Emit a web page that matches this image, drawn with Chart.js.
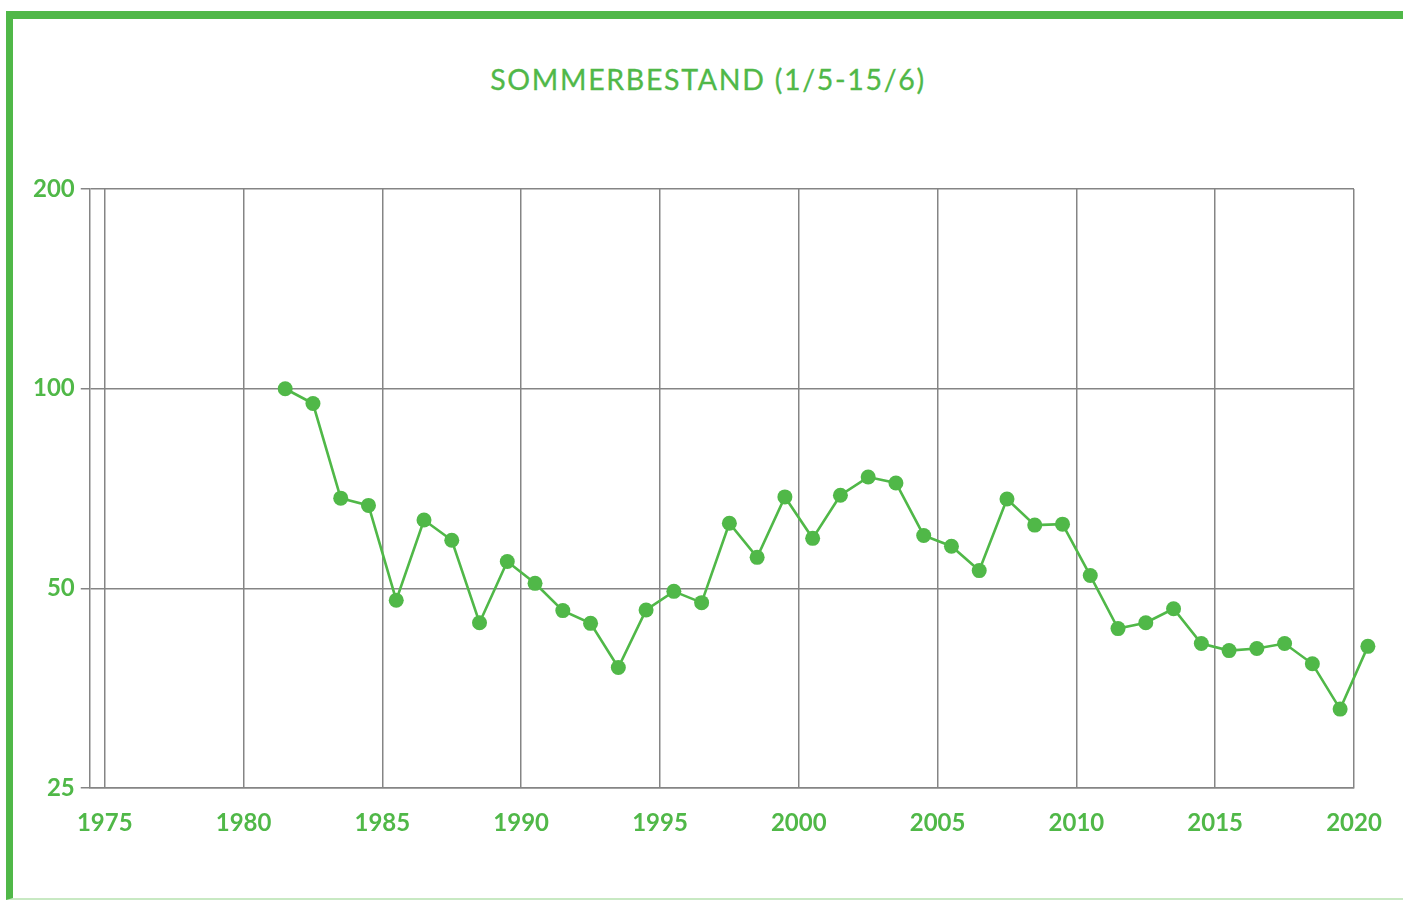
<!DOCTYPE html>
<html>
<head>
<meta charset="utf-8">
<script src="https://cdn.jsdelivr.net/npm/chart.js@4"></script>
<style>
    html, body { margin: 0; padding: 0; background: #fff; }
    body { width: 1403px; height: 900px; position: relative; overflow: hidden; font-family: Lato, sans-serif; }
    .frame {
        position: absolute; left: 6px; top: 11px; right: -10px; bottom: 0;
        border-top: 8px solid #50b848; border-left: 7px solid #50b848;
        border-bottom: 2px solid #c8e9c3;
    }
    .title {
        position: absolute; left: 0; top: 62px; width: 1416px; text-align: center;
        color: #50b848; font-size: 28.5px; font-weight: 400; letter-spacing: 1.7px;
        -webkit-text-stroke: 0.3px #50b848;
    }
    .chart-box { position: absolute; left: 0; top: 0; width: 1403px; height: 900px; }
</style>
</head>
<body>
<div class="frame"></div>
<div class="title">SOMMERBESTAND (1/5-15/6)</div>
<div class="chart-box"><canvas id="summerChart"></canvas></div>
<script>
const years = [1981, 1982, 1983, 1984, 1985, 1986, 1987, 1988, 1989, 1990,
               1991, 1992, 1993, 1994, 1995, 1996, 1997, 1998, 1999, 2000,
               2001, 2002, 2003, 2004, 2005, 2006, 2007, 2008, 2009, 2010,
               2011, 2012, 2013, 2014, 2015, 2016, 2017, 2018, 2019, 2020];
const counts = [100, 95, 68.4, 66.7, 48, 63.4, 59.1, 44.4, 54.9, 50.9,
                46.3, 44.3, 38, 46.4, 49.5, 47.6, 62.7, 55.7, 68.7, 59.5,
                69.1, 73.6, 72.1, 60.1, 57.9, 53.2, 68.2, 62.3, 62.5, 52.3,
                43.5, 44.4, 46.6, 41.3, 40.3, 40.6, 41.3, 38.5, 32.9, 40.9];
const xTicks = [1975, 1980, 1985, 1990, 1995, 2000, 2005, 2010, 2015, 2020];
const yTicks = [25, 50, 100, 200];

const green = '#50b848';
const gridGrey = '#858585';

// points past the last gridline still get drawn (the line already does with clip: false)
const outsidePoints = {
    id: 'outsidePoints',
    afterDatasetsDraw(chart) {
        const area = chart.chartArea;
        const full = { left: 0, top: 0, right: chart.width, bottom: chart.height };
        chart.getDatasetMeta(0).data.forEach(p => {
            if (p.x > area.right) p.draw(chart.ctx, full);
        });
    }
};

const ctx = document.getElementById('summerChart').getContext('2d');
new Chart(ctx, {
    type: 'line',
    data: {
        datasets: [{
            label: 'Sommerbestand',
            // points sit mid-year
            data: years.map((y, i) => ({ x: y + 0.5, y: counts[i] })),
            borderColor: green,
            backgroundColor: green,
            borderWidth: 2.6,
            pointRadius: 7.5,
            pointHoverRadius: 7.5,
            pointBorderWidth: 0,
            tension: 0,
            clip: false
        }]
    },
    options: {
        responsive: true,
        maintainAspectRatio: false,
        animation: false,
        layout: { padding: { top: 189, left: 27, right: 49, bottom: 41 } },
        plugins: {
            legend: { display: false },
            title: { display: false },
            tooltip: { enabled: false }
        },
        scales: {
            x: {
                type: 'linear',
                min: 1974.46,
                max: 2020,
                afterBuildTicks: scale => { scale.ticks = xTicks.map(v => ({ value: v })); },
                grid: { color: gridGrey, lineWidth: 1.5, drawTicks: false },
                border: { color: gridGrey, width: 1.5 },
                ticks: {
                    color: green,
                    padding: 21,
                    maxRotation: 0,
                    autoSkip: false,
                    font: { family: 'Lato', size: 24, weight: 'bold' },
                    callback: value => String(value)
                }
            },
            y: {
                type: 'logarithmic',
                min: 25,
                max: 200,
                afterBuildTicks: scale => { scale.ticks = yTicks.map(v => ({ value: v })); },
                grid: { color: gridGrey, lineWidth: 1.5, tickLength: 9 },
                border: { color: gridGrey, width: 1.5 },
                ticks: {
                    color: green,
                    padding: 6,
                    autoSkip: false,
                    font: { family: 'Lato', size: 24, weight: 'bold' },
                    callback: value => String(value)
                }
            }
        }
    },
    plugins: [outsidePoints]
});
</script>
</body>
</html>
